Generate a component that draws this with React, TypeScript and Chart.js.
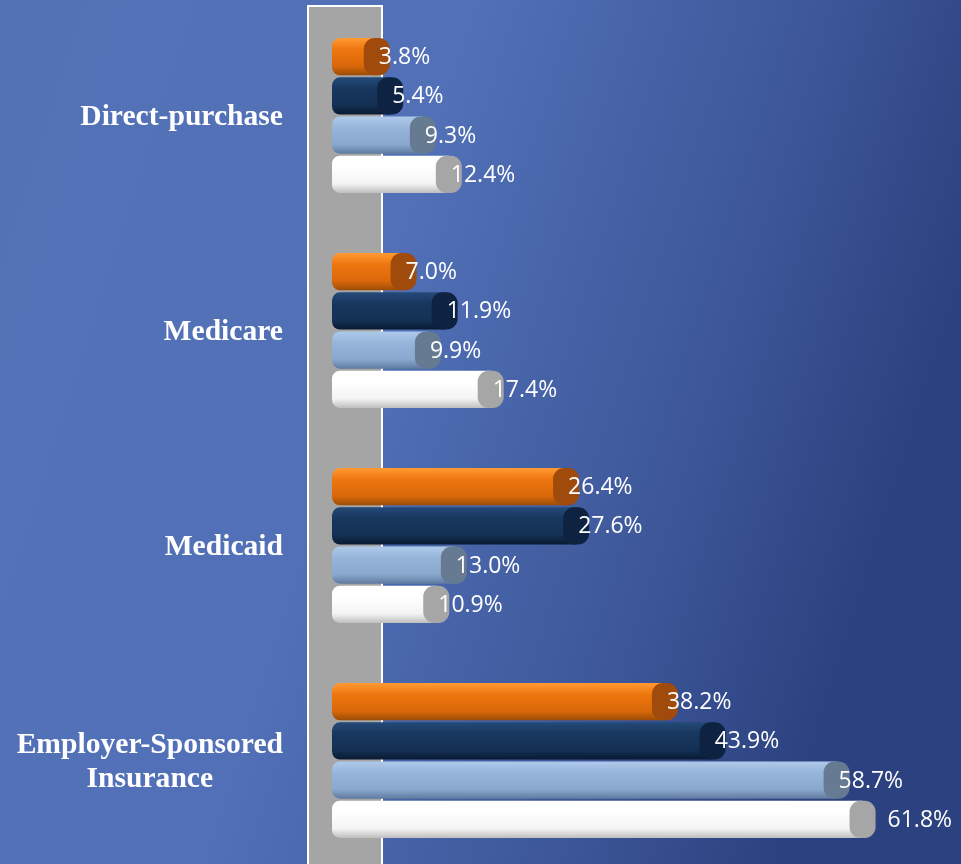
import React, { useEffect, useRef } from "react";
import { Chart, registerables } from "chart.js";

Chart.register(...registerables);

const categories: (string | string[])[] = [
  "Direct-purchase",
  "Medicare",
  "Medicaid",
  ["Employer-Sponsored", "Insurance"],
];
const seriesNames = ["Series 1", "Series 2", "Series 3", "Series 4"];
const seriesA = [3.8, 7.0, 26.4, 38.2];
const seriesB = [5.4, 11.9, 27.6, 43.9];
const seriesC = [9.3, 9.9, 13.0, 58.7];
const seriesD = [12.4, 17.4, 10.9, 61.8];

const palettes = [
  { top: "#ff9a33", mid: "#ef760f", low: "#d9680a", bottom: "#9c4c06", cap: "#a04b0b" },
  { top: "#244a78", mid: "#18375f", low: "#143054", bottom: "#081a30", cap: "#0e2341" },
  { top: "#aecaeb", mid: "#97b5da", low: "#8aa8cd", bottom: "#5f7aa0", cap: "#667a92" },
  { top: "#ffffff", mid: "#ffffff", low: "#f4f4f4", bottom: "#bfbfbf", cap: "#a6a6a6" },
];

const X_MIN = -3.1;
const X_MAX = 72;

function rr(ctx: CanvasRenderingContext2D, x: number, y: number, w: number, h: number, r: any) {
  ctx.beginPath();
  ctx.roundRect(x, y, w, h, r);
}

const cylPlugin = {
  id: "cylinders",
  beforeDraw(chart: any) {
    const { ctx, width, height, chartArea } = chart;
    ctx.save();
    const g = ctx.createLinearGradient(0, 0, width, height * 0.35);
    g.addColorStop(0, "#5372b6");
    g.addColorStop(0.45, "#5170b7");
    g.addColorStop(0.75, "#3f5a9c");
    g.addColorStop(1, "#2c417f");
    ctx.fillStyle = g;
    ctx.fillRect(0, 0, width, height);
    const pl = chartArea.left - 25;
    const pr = chartArea.left + 51;
    const pt = 5;
    ctx.fillStyle = "#ffffff";
    ctx.fillRect(pl, pt, pr - pl, height - pt);
    ctx.fillStyle = "#a5a5a5";
    ctx.fillRect(pl + 2, pt + 2, pr - pl - 4, height - pt - 2);
    ctx.restore();
  },
  afterDatasetsDraw(chart: any) {
    const { ctx, chartArea } = chart;
    const capW = 26;
    let maxVal = -Infinity;
    chart.data.datasets.forEach((ds: any) => ds.data.forEach((v: number) => (maxVal = Math.max(maxVal, v))));
    ctx.save();
    chart.data.datasets.forEach((ds: any, di: number) => {
      const meta = chart.getDatasetMeta(di);
      const p = palettes[di];
      meta.data.forEach((el: any) => {
        const { x, y, height } = el.getProps(["x", "y", "height"], true);
        const left = chartArea.left;
        const top = y - height / 2;
        const bodyRight = x - capW / 2;
        const grad = ctx.createLinearGradient(0, top, 0, top + height);
        grad.addColorStop(0, p.top);
        grad.addColorStop(0.3, p.mid);
        grad.addColorStop(0.75, p.low);
        grad.addColorStop(1, p.bottom);
        ctx.fillStyle = grad;
        rr(ctx, left, top, bodyRight - left, height, [8, 0, 0, 8]);
        ctx.fill();
        ctx.fillStyle = p.cap;
        rr(ctx, x - capW, top, capW, height, 11);
        ctx.fill();
      });
    });
    ctx.fillStyle = "#ffffff";
    ctx.font = "23px 'Open Sans'";
    ctx.textBaseline = "middle";
    ctx.textAlign = "left";
    chart.data.datasets.forEach((ds: any, di: number) => {
      const meta = chart.getDatasetMeta(di);
      meta.data.forEach((el: any, i: number) => {
        const v = ds.data[i];
        const { x, y } = el.getProps(["x", "y"], true);
        const lx = v === maxVal ? x + 12 : x - 11;
        ctx.fillText(v.toFixed(1) + "%", lx, y + 1);
      });
    });
    ctx.restore();
  },
  afterDraw(chart: any) {
    const { ctx, chartArea } = chart;
    const yScale = chart.scales.y;
    const right = chartArea.left - 49;
    ctx.save();
    ctx.fillStyle = "#ffffff";
    ctx.font = "bold 29.6px 'Liberation Serif', 'Times New Roman', serif";
    ctx.textAlign = "center";
    ctx.textBaseline = "alphabetic";
    const lineH = 34;
    categories.forEach((c, i) => {
      const lines = Array.isArray(c) ? c : [c];
      const cy = yScale.getPixelForValue(i);
      const maxW = Math.max(...lines.map((l) => ctx.measureText(l).width));
      const cx = right - maxW / 2;
      const firstBase = cy + 9.5 - ((lines.length - 1) * lineH) / 2;
      lines.forEach((l, k) => ctx.fillText(l, cx, firstBase + k * lineH));
    });
    ctx.restore();
  },
};

export default function App() {
  const ref = useRef<HTMLCanvasElement | null>(null);
  useEffect(() => {
    if (!ref.current) return;
    const allSeries = [seriesA, seriesB, seriesC, seriesD];
    const chart = new Chart(ref.current, {
      type: "bar",
      data: {
        labels: categories as any,
        datasets: allSeries.map((d, i) => ({
          label: seriesNames[i],
          data: d,
          base: X_MIN,
          backgroundColor: "rgba(0,0,0,0)",
          borderWidth: 0,
          categoryPercentage: 0.729,
          barPercentage: 0.95,
        })),
      },
      options: {
        indexAxis: "y",
        responsive: false,
        animation: false,
        devicePixelRatio: 1,
        layout: { padding: { top: 8, bottom: 0, left: 0, right: 0 } },
        plugins: { legend: { display: false }, tooltip: { enabled: false } },
        scales: {
          x: { display: false, min: X_MIN, max: X_MAX },
          y: {
            display: true,
            grid: { display: false },
            border: { display: false },
            ticks: { display: false },
            afterFit: (s: any) => {
              s.width = 332;
            },
          },
        },
      },
      plugins: [cylPlugin],
    } as any);
    return () => chart.destroy();
  }, []);
  return (
    <div style={{ position: "fixed", left: 0, top: 0, width: 961, height: 864, overflow: "hidden" }}>
      <canvas ref={ref} width={961} height={868} style={{ display: "block" }} />
    </div>
  );
}
